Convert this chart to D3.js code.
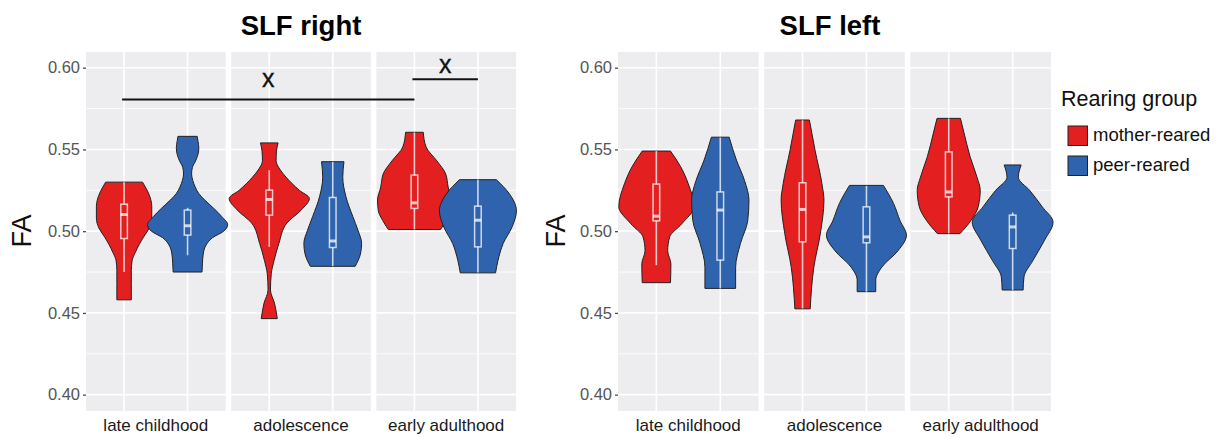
<!DOCTYPE html>
<html><head><meta charset="utf-8">
<script src="https://cdn.jsdelivr.net/npm/d3@7/dist/d3.min.js"></script>
<style>body{margin:0;background:#fff}svg{display:block}</style>
</head><body><svg id="chart" width="1220" height="438"></svg>
<script>
// ---------- data ----------
const panelTitles = ["SLF right", "SLF left"];
const ageGroups = ["late childhood", "adolescence", "early adulthood"];
const rearingGroups = ["mother-reared", "peer-reared"];
const yTicks = [0.40, 0.45, 0.50, 0.55, 0.60];
const yMinor = [0.425, 0.475, 0.525, 0.575];

// violin outlines: [FA, relative density]
const rightLateMother = [[0.530,0.46],[0.527,0.53],[0.522,0.63],[0.515,0.69],[0.508,0.69],[0.502,0.63],[0.497,0.50],[0.492,0.38],[0.487,0.28],[0.482,0.20],[0.476,0.18],[0.468,0.18],[0.458,0.18]];
const rightLatePeer = [[0.558,0.24],[0.555,0.26],[0.551,0.28],[0.547,0.26],[0.543,0.20],[0.539,0.12],[0.535,0.10],[0.531,0.13],[0.527,0.19],[0.523,0.28],[0.519,0.43],[0.514,0.65],[0.509,0.85],[0.504,1.00],[0.500,0.90],[0.496,0.62],[0.491,0.45],[0.486,0.39],[0.480,0.37],[0.475,0.36]];
const rightAdolMother = [[0.554,0.22],[0.549,0.18],[0.543,0.17],[0.538,0.26],[0.533,0.42],[0.525,0.75],[0.520,1.00],[0.513,0.80],[0.505,0.44],[0.4925,0.24],[0.482,0.12],[0.474,0.05],[0.464,0.03],[0.456,0.13],[0.4465,0.20]];
const rightAdolPeer = [[0.5425,0.28],[0.533,0.25],[0.521,0.33],[0.509,0.50],[0.5005,0.63],[0.4925,0.72],[0.486,0.69],[0.4785,0.56]];
const rightEarlyMother = [[0.5605,0.22],[0.5515,0.29],[0.543,0.56],[0.535,0.78],[0.527,0.84],[0.519,0.92],[0.5125,0.90],[0.5065,0.79],[0.501,0.65]];
const rightEarlyPeer = [[0.5315,0.46],[0.523,0.78],[0.5125,0.96],[0.5025,0.85],[0.4925,0.63],[0.482,0.50],[0.4745,0.44]];
const leftLateMother = [[0.549,0.35],[0.5395,0.60],[0.529,0.79],[0.515,0.93],[0.5045,0.63],[0.4965,0.33],[0.488,0.28],[0.480,0.36],[0.4685,0.35]];
const leftLatePeer = [[0.5575,0.22],[0.5435,0.40],[0.531,0.60],[0.519,0.71],[0.5065,0.68],[0.4925,0.50],[0.478,0.38],[0.465,0.38]];
const leftAdolMother = [[0.568,0.17],[0.5495,0.31],[0.529,0.48],[0.519,0.53],[0.4985,0.44],[0.478,0.28],[0.4525,0.19]];
const leftAdolPeer = [[0.528,0.42],[0.517,0.67],[0.5065,0.83],[0.4975,0.99],[0.488,0.78],[0.478,0.38],[0.470,0.23],[0.463,0.23]];
const leftEarlyMother = [[0.569,0.29],[0.560,0.38],[0.5455,0.53],[0.533,0.70],[0.525,0.78],[0.515,0.73],[0.5065,0.55],[0.4985,0.28]];
const leftEarlyPeer = [[0.5405,0.21],[0.533,0.14],[0.525,0.42],[0.515,0.73],[0.5055,1.00],[0.4945,0.79],[0.482,0.50],[0.472,0.28],[0.464,0.26]];

// box stats: [lower whisker, Q1, median, Q3, upper whisker]
const rightBoxes = [
  [0.475, 0.4955, 0.5102, 0.5165, 0.530], [0.4853, 0.4976, 0.5033, 0.5129, 0.5143],
  [0.4904, 0.5098, 0.5194, 0.5251, 0.5373], [0.4786, 0.4900, 0.4940, 0.5206, 0.5424],
  [0.501, 0.5139, 0.5173, 0.5343, 0.5604], [0.4747, 0.4904, 0.5067, 0.5153, 0.5316]];
const leftBoxes = [
  [0.4792, 0.5063, 0.5092, 0.5288, 0.549], [0.4649, 0.4823, 0.5129, 0.524, 0.5573],
  [0.4527, 0.4935, 0.5133, 0.5296, 0.5679], [0.4629, 0.4929, 0.4965, 0.5149, 0.5277],
  [0.4986, 0.521, 0.524, 0.5485, 0.569], [0.4639, 0.4894, 0.5026, 0.5098, 0.5114]];

// significance markers (SLF right): from [age, group] to [age, group], line level, label level
const sigFrom = [["late childhood","mother-reared"], ["early adulthood","mother-reared"]];
const sigTo = [["early adulthood","mother-reared"], ["early adulthood","peer-reared"]];
const sigLevel = [0.5806, 0.5929];
const sigLabelLevel = [0.5924, 0.6006];
const sigLabel = ["x", "x"];

// ---------- style ----------
const colors = d3.scaleOrdinal().domain(rearingGroups).range(["#e31f1f", "#2f63ad"]);
const font = "'Liberation Sans', Arial, sans-serif";
const svg = d3.select("#chart");
svg.append("rect").attr("width",1220).attr("height",438).attr("fill","#fff");

const panelDefs = [
  {title: panelTitles[0], x0: 86, x1: 516, titleX: 301, faX: 22,
   violins: [rightLateMother, rightLatePeer, rightAdolMother, rightAdolPeer, rightEarlyMother, rightEarlyPeer], boxes: rightBoxes, sig: true},
  {title: panelTitles[1], x0: 618, x1: 1051, titleX: 830, faX: 556,
   violins: [leftLateMother, leftLatePeer, leftAdolMother, leftAdolPeer, leftEarlyMother, leftEarlyPeer], boxes: leftBoxes, sig: false}
];

const y = d3.scaleLinear().domain([0.39, 0.6096]).range([411, 52]);

panelDefs.forEach(p => {
  const g = svg.append("g");
  const facet = d3.scaleBand().domain(ageGroups).range([p.x0, p.x1]).paddingInner(0.038);
  const xs = d3.scalePoint().domain(rearingGroups).range([0, facet.bandwidth()]).padding(0.6);
  const wScale = d3.scaleLinear().domain([0, 1]).range([0, xs.step() * 0.632]);
  const boxHalf = xs.step() * 0.052;
  const cx = (age, grp) => facet(age) + xs(grp);

  // facet backgrounds and grid
  ageGroups.forEach(age => {
    const fx = facet(age), fw = facet.bandwidth();
    g.append("rect").attr("x", fx).attr("y", y.range()[1]).attr("width", fw)
      .attr("height", y.range()[0] - y.range()[1]).attr("fill", "#ededf0");
    yMinor.forEach(t => g.append("line").attr("x1", fx).attr("x2", fx + fw)
      .attr("y1", y(t)).attr("y2", y(t)).attr("stroke", "#fff").attr("stroke-width", 0.8));
    yTicks.forEach(t => g.append("line").attr("x1", fx).attr("x2", fx + fw)
      .attr("y1", y(t)).attr("y2", y(t)).attr("stroke", "#fff").attr("stroke-width", 1.6));
    rearingGroups.forEach(grp => g.append("line").attr("x1", cx(age, grp)).attr("x2", cx(age, grp))
      .attr("y1", y.range()[1]).attr("y2", y.range()[0]).attr("stroke", "#fff").attr("stroke-width", 1.6));
    // strip label at bottom
    g.append("text").attr("x", fx + fw / 2).attr("y", 431).attr("text-anchor", "middle")
      .attr("font-family", font).attr("font-size", 17).attr("fill", "#1a1a1a").text(age);
  });

  // y axis
  const axis = g.append("g").attr("transform", `translate(${p.x0},0)`)
    .call(d3.axisLeft(y).tickValues(yTicks).tickFormat(d3.format(".2f")).tickSize(3).tickPadding(3));
  axis.select(".domain").remove();
  axis.selectAll(".tick line").attr("stroke", "#4d4d4d").attr("stroke-width", 1.3);
  axis.selectAll(".tick text").attr("font-family", font).attr("font-size", 16.5).attr("fill", "#555");

  // y title
  g.append("text").attr("transform", `translate(${p.faX + 9},231) rotate(-90)`).attr("text-anchor", "middle")
    .attr("font-family", font).attr("font-size", 27).attr("fill", "#111").text("FA");

  // title
  g.append("text").attr("x", p.titleX).attr("y", 35).attr("text-anchor", "middle")
    .attr("font-family", font).attr("font-size", 27.5).attr("font-weight", "bold").attr("fill", "#000").text(p.title);

  // violins
  ageGroups.forEach((age, ai) => {
    rearingGroups.forEach((grp, gi) => {
      const idx = ai * 2 + gi;
      const c = cx(age, grp);
      const dens = p.violins[idx].slice().sort((a, b) => a[0] - b[0]);
      const area = d3.area().curve(d3.curveMonotoneY)
        .y(d => y(d[0])).x0(d => c - wScale(d[1])).x1(d => c + wScale(d[1]));
      g.append("path").attr("d", area(dens)).attr("fill", colors(grp))
        .attr("stroke", "#222").attr("stroke-width", 1);
      const b = p.boxes[idx];
      const bs = "rgba(255,255,255,0.75)";
      g.append("line").attr("x1", c).attr("x2", c).attr("y1", y(b[4])).attr("y2", y(b[3]))
        .attr("stroke", bs).attr("stroke-width", 1.6);
      g.append("line").attr("x1", c).attr("x2", c).attr("y1", y(b[1])).attr("y2", y(b[0]))
        .attr("stroke", bs).attr("stroke-width", 1.6);
      g.append("rect").attr("x", c - boxHalf).attr("width", boxHalf * 2)
        .attr("y", y(b[3])).attr("height", y(b[1]) - y(b[3]))
        .attr("fill", "none").attr("stroke", bs).attr("stroke-width", 1.5);
      g.append("line").attr("x1", c - boxHalf).attr("x2", c + boxHalf).attr("y1", y(b[2])).attr("y2", y(b[2]))
        .attr("stroke", bs).attr("stroke-width", 3);
    });
  });

  // significance annotations
  if (p.sig) {
    sigFrom.forEach((f, i) => {
      const xa = cx(f[0], f[1]) - 2, xb = cx(sigTo[i][0], sigTo[i][1]);
      g.append("line").attr("x1", xa).attr("x2", xb).attr("y1", y(sigLevel[i])).attr("y2", y(sigLevel[i]))
        .attr("stroke", "#111").attr("stroke-width", 2);
      g.append("text").attr("x", (xa + xb) / 2).attr("y", y(sigLabelLevel[i]) + 6.5).attr("text-anchor", "middle")
        .attr("font-family", font).attr("font-size", 25).attr("fill", "#111")
        .attr("stroke", "#111").attr("stroke-width", 0.35).text(sigLabel[i]);
    });
  }
});

// legend
const lg = svg.append("g");
lg.append("text").attr("x", 1061).attr("y", 106).attr("font-family", font).attr("font-size", 21.5)
  .attr("fill", "#111").text("Rearing group");
rearingGroups.forEach((grp, i) => {
  const ky = 126 + i * 30;
  lg.append("rect").attr("x", 1068).attr("y", ky).attr("width", 19.5).attr("height", 19.5)
    .attr("fill", colors(grp)).attr("stroke", "#222").attr("stroke-width", 1);
  lg.append("text").attr("x", 1093).attr("y", ky + 15).attr("font-family", font).attr("font-size", 18.5)
    .attr("fill", "#111").text(grp);
});
</script></body></html>
